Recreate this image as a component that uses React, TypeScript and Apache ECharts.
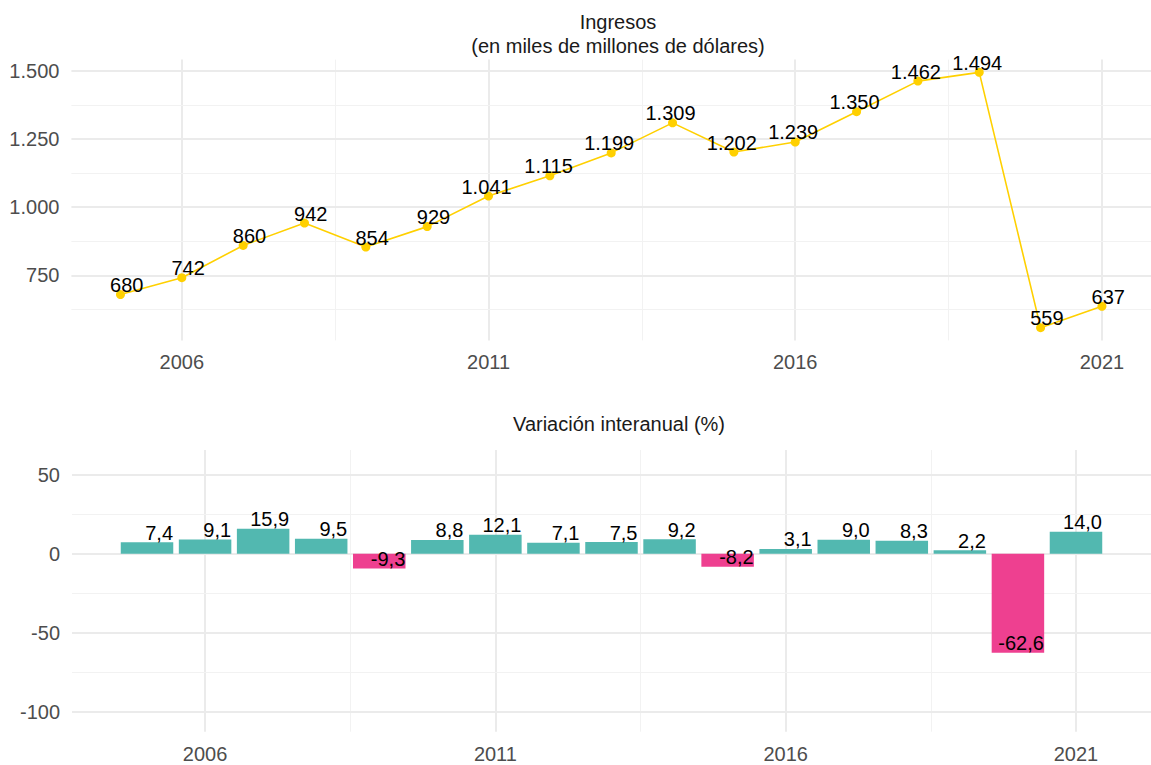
import React, { useEffect, useRef } from "react";
import * as echarts from "echarts";

const years = [2005, 2006, 2007, 2008, 2009, 2010, 2011, 2012, 2013, 2014, 2015, 2016, 2017, 2018, 2019, 2020, 2021];
const ingresos = [680, 742, 860, 942, 854, 929, 1041, 1115, 1199, 1309, 1202, 1239, 1350, 1462, 1494, 559, 637];
const variacion = [7.4, 9.1, 15.9, 9.5, -9.3, 8.8, 12.1, 7.1, 7.5, 9.2, -8.2, 3.1, 9.0, 8.3, 2.2, -62.6, 14.0];

const xTickLabels = [2006, 2011, 2016, 2021];
const xMinorGrid = [2008.5, 2013.5, 2018.5];
const topYTicks = [750, 1000, 1250, 1500];
const topYMinor = [625, 875, 1125, 1375];
const botYTicks = [-100, -50, 0, 50];
const botYMinor = [-75, -25, 25];

const FONT = "'Liberation Sans', Arial, Helvetica, sans-serif";
const GRID_COLOR = "#EBEBEB";
const TEAL = "#52B8B0";
const PINK = "#EE4090";
const GOLD = "#FFD000";

const fmtThousands = (v: number) => {
  const s = Math.round(v).toString();
  return s.replace(/\B(?=(\d{3})+(?!\d))/g, ".");
};
const fmtPct = (v: number) => v.toFixed(1).replace(".", ",");

function gridLines(xMajor: number[], xMinor: number[], yMajor: number[], yMinor: number[]) {
  const major = { color: GRID_COLOR, width: 2, type: "solid" };
  const minor = { color: "#F2F2F2", width: 1, type: "solid" };
  return [
    ...xMajor.map((v) => ({ xAxis: v, lineStyle: major })),
    ...xMinor.map((v) => ({ xAxis: v, lineStyle: minor })),
    ...yMajor.map((v) => ({ yAxis: v, lineStyle: major })),
    ...yMinor.map((v) => ({ yAxis: v, lineStyle: minor })),
  ];
}

export default function App() {
  const ref = useRef<HTMLDivElement>(null);
  useEffect(() => {
    if (!ref.current) return;
    const chart = echarts.init(ref.current, undefined, { renderer: "svg" });
    const axisLabelStyle = { color: "#4D4D4D", fontSize: 20, fontFamily: FONT };
    const baseX = (gridIndex: number, min: number, max: number) => ({
      type: "value",
      gridIndex,
      min,
      max,
      axisLine: { show: false, onZero: false },
      axisTick: { show: false },
      splitLine: { show: false },
      axisLabel: {
        ...axisLabelStyle,
        margin: 12,
        customValues: xTickLabels,
        formatter: (v: number) => String(v),
      },
    });
    const markLineBase = {
      silent: true,
      symbol: "none",
      z: 1,
      label: { show: false },
      emphasis: { disabled: true },
      animation: false,
    };
    const option: any = {
      animation: false,
      backgroundColor: "#ffffff",
      title: [
        {
          text: "Ingresos\n(en miles de millones de dólares)",
          left: 613,
          top: 5,
          textAlign: "center",
          textStyle: { fontSize: 20, fontWeight: "normal", color: "#1A1A1A", fontFamily: FONT, lineHeight: 24 },
        },
        {
          text: "Variación interanual (%)",
          left: 614,
          top: 407,
          textAlign: "center",
          textStyle: { fontSize: 20, fontWeight: "normal", color: "#1A1A1A", fontFamily: FONT, lineHeight: 24 },
        },
      ],
      grid: [
        { left: 71.4, right: -4.3, top: 59.6, height: 280.8, containLabel: false },
        { left: 72, right: -4.3, top: 450, height: 281.7, containLabel: false },
      ],
      xAxis: [baseX(0, 2004.2, 2021.8), baseX(1, 2003.708, 2022.292)],
      yAxis: [
        {
          type: "value",
          gridIndex: 0,
          min: 512.25,
          max: 1540.75,
          axisLine: { show: false },
          axisTick: { show: false },
          splitLine: { show: false },
          axisLabel: {
            ...axisLabelStyle,
            margin: 12,
            customValues: topYTicks,
            formatter: (v: number) => fmtThousands(v),
          },
        },
        {
          type: "value",
          gridIndex: 1,
          min: -112.7,
          max: 65.8,
          axisLine: { show: false },
          axisTick: { show: false },
          splitLine: { show: false },
          axisLabel: {
            ...axisLabelStyle,
            margin: 12,
            customValues: botYTicks,
            formatter: (v: number) => String(v),
          },
        },
      ],
      series: [
        {
          type: "scatter",
          xAxisIndex: 0,
          yAxisIndex: 0,
          data: [],
          z: 0,
          silent: true,
          markLine: { ...markLineBase, data: gridLines(xTickLabels, xMinorGrid, topYTicks, topYMinor) },
        },
        {
          type: "scatter",
          xAxisIndex: 1,
          yAxisIndex: 1,
          data: [],
          z: 0,
          silent: true,
          markLine: { ...markLineBase, data: gridLines(xTickLabels, xMinorGrid, botYTicks, botYMinor) },
        },
        {
          type: "line",
          xAxisIndex: 0,
          yAxisIndex: 0,
          z: 5,
          data: years.map((y, i) => [y, ingresos[i]]),
          lineStyle: { color: GOLD, width: 1.6 },
          itemStyle: { color: GOLD },
          symbol: "circle",
          symbolSize: 9,
          showAllSymbol: true,
          label: {
            show: true,
            position: "top",
            distance: -5,
            align: "right",
            offset: [23, 0],
            color: "#000000",
            fontSize: 20,
            fontFamily: FONT,
            formatter: (p: any) => fmtThousands(p.value[1]),
          },
        },
        {
          type: "bar",
          xAxisIndex: 1,
          yAxisIndex: 1,
          z: 4,
          barWidth: 52.5,
          data: years.map((y, i) => ({
            value: [y, variacion[i]],
            itemStyle: { color: variacion[i] < 0 ? PINK : TEAL },
          })),
        },
        {
          type: "scatter",
          xAxisIndex: 1,
          yAxisIndex: 1,
          z: 6,
          symbolSize: 1,
          silent: true,
          itemStyle: { color: "rgba(0,0,0,0)", opacity: 1 },
          data: years.map((y, i) => [y, variacion[i]]),
          label: {
            show: true,
            position: "top",
            distance: -1,
            align: "right",
            offset: [26, 0],
            color: "#000000",
            opacity: 1,
            fontSize: 20,
            fontFamily: FONT,
            formatter: (p: any) => fmtPct(p.value[1]),
          },
        },
      ],
    };
    chart.setOption(option);
    return () => chart.dispose();
  }, []);
  return (
    <div
      ref={ref}
      style={{ position: "fixed", left: 0, top: 0, width: 1151, height: 765, background: "#fff" }}
    />
  );
}
